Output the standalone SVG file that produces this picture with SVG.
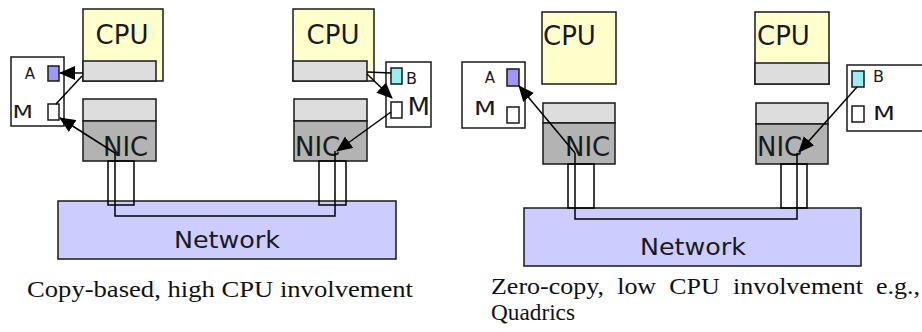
<svg xmlns="http://www.w3.org/2000/svg" width="922" height="332" viewBox="0 0 922 332">
<style>
.box{stroke:#1a1a1a;stroke-width:1.5}
.cpu{fill:#ffffcc}
.bar{fill:#dddddd}
.nicb{fill:#b3b3b3}
.mem{fill:#ffffff}
.bufA{fill:#9999ff}
.bufB{fill:#99eeee}
.net{fill:#ccccff}
.lbl{font-family:"DejaVu Sans",sans-serif;fill:#1a1a1a}
.cap{font-family:"Liberation Serif","Times New Roman",serif;fill:#111;font-size:23.5px}
.wire{fill:none;stroke:#000;stroke-width:1.5}
.con{fill:none;stroke:#000;stroke-width:1.5}
.arr{marker-end:url(#ah)}
</style>
<defs>
<marker id="ah" markerUnits="userSpaceOnUse" markerWidth="16" markerHeight="14" refX="15" refY="7" orient="auto">
<path d="M0,0 L16,7 L0,14 Z" fill="#000"/>
</marker>
</defs>
<rect width="922" height="332" fill="#fff"/>

<!-- Left diagram -->
<g id="network1">
<rect class="box net" x="58" y="201" width="338" height="58"/>
<text class="lbl" x="227" y="248" font-size="23" text-anchor="middle" textLength="106" lengthAdjust="spacingAndGlyphs">Network</text>
</g>
<g id="cpu1">
<rect class="box cpu" x="83" y="9" width="80" height="72"/>
<rect class="box bar" x="83" y="61" width="73" height="20"/>
<text class="lbl" x="122" y="44" font-size="26" text-anchor="middle">CPU</text>
</g>
<g id="mem1">
<rect class="box mem" x="11" y="57" width="53" height="69"/>
<text class="lbl" x="30" y="79" font-size="15" text-anchor="middle">A</text>
<rect class="box bufA" x="48" y="66" width="11" height="15"/>
<text class="lbl" x="12.5" y="118" font-size="18" textLength="20.5" lengthAdjust="spacingAndGlyphs">M</text>
<rect class="box mem" x="48" y="104" width="11" height="16"/>
</g>
<g id="nic1">
<rect class="box bar" x="83" y="99" width="73" height="22"/>
<rect class="box nicb" x="83" y="121" width="73" height="40"/>
<text class="lbl" x="103" y="156" font-size="26">NIC</text>
</g>
<g id="cpu2">
<rect class="box cpu" x="293" y="9" width="81" height="72"/>
<rect class="box bar" x="293" y="61" width="74" height="20"/>
<text class="lbl" x="333" y="44" font-size="26" text-anchor="middle">CPU</text>
</g>
<g id="mem2">
<rect class="box mem" x="386" y="62" width="45" height="65"/>
<rect class="box bufB" x="391" y="68" width="11" height="16"/>
<text class="lbl" x="406" y="84" font-size="16">B</text>
<rect class="box mem" x="391" y="102" width="11" height="16"/>
<text class="lbl" x="407.5" y="115" font-size="25" textLength="22.5" lengthAdjust="spacingAndGlyphs">M</text>
</g>
<g id="nic2">
<rect class="box bar" x="294" y="99" width="73" height="22"/>
<rect class="box nicb" x="294" y="121" width="73" height="40"/>
<text class="lbl" x="295" y="156" font-size="26">NIC</text>
</g>

<!-- Right diagram -->
<g id="network2">
<rect class="box net" x="524" y="208" width="337" height="58"/>
<text class="lbl" x="693" y="255" font-size="23" text-anchor="middle" textLength="106" lengthAdjust="spacingAndGlyphs">Network</text>
</g>
<g id="cpu3">
<rect class="box cpu" x="542" y="12" width="74" height="72"/>
<text class="lbl" x="543" y="45" font-size="26">CPU</text>
</g>
<g id="mem3">
<rect class="box mem" x="462" y="62" width="63" height="66"/>
<text class="lbl" x="490" y="82.5" font-size="15" text-anchor="middle">A</text>
<rect class="box bufA" x="507" y="69" width="12" height="17"/>
<text class="lbl" x="474" y="115" font-size="19" textLength="22" lengthAdjust="spacingAndGlyphs">M</text>
<rect class="box mem" x="507" y="107" width="12" height="16"/>
</g>
<g id="nic3">
<rect class="box bar" x="543" y="103" width="72" height="20"/>
<rect class="box nicb" x="543" y="123" width="72" height="41"/>
<text class="lbl" x="565" y="156" font-size="26">NIC</text>
</g>
<g id="cpu4">
<rect class="box cpu" x="755" y="12" width="74" height="72"/>
<rect class="box bar" x="755" y="63" width="74" height="21"/>
<text class="lbl" x="757" y="45" font-size="26">CPU</text>
</g>
<g id="mem4">
<rect class="box mem" x="847" y="65" width="80" height="66"/>
<rect class="box bufB" x="852" y="71" width="12" height="16"/>
<text class="lbl" x="873" y="82" font-size="16">B</text>
<rect class="box mem" x="852" y="106" width="12" height="16"/>
<text class="lbl" x="873" y="120" font-size="20" textLength="22" lengthAdjust="spacingAndGlyphs">M</text>
</g>
<g id="nic4">
<rect class="box bar" x="756" y="103" width="72" height="21"/>
<rect class="box nicb" x="756" y="124" width="72" height="40"/>
<text class="lbl" x="757" y="156" font-size="26">NIC</text>
</g>

<g id="connectors">
<rect class="wire" x="108" y="161" width="26" height="44"/>
<rect class="wire" x="319" y="161" width="27" height="44"/>
<polyline class="wire" points="115,153 115,216 335,216 335,151"/>
<rect class="wire" x="568" y="164" width="26" height="44"/>
<rect class="wire" x="781" y="164" width="26" height="44"/>
<polyline class="wire" points="575,153 575,219 797,219 797,153"/>
<line class="con arr" x1="83" y1="73" x2="60" y2="73"/>
<line class="con" x1="82" y1="76" x2="56" y2="104"/>
<line class="con arr" x1="115" y1="153" x2="60" y2="118"/>
<line class="con" x1="367" y1="72" x2="391" y2="73"/>
<line class="con arr" x1="367" y1="74" x2="392" y2="98"/>
<line class="con arr" x1="391" y1="112" x2="337" y2="151"/>
<line class="con arr" x1="575" y1="153" x2="519" y2="86"/>
<line class="con arr" x1="857" y1="87" x2="799" y2="152"/>
</g>

<g id="captions">
<text class="cap" x="27" y="297" font-size="25" textLength="386" lengthAdjust="spacingAndGlyphs">Copy-based, high CPU involvement</text>
<text class="cap" x="491" y="294" word-spacing="6" textLength="429" lengthAdjust="spacingAndGlyphs">Zero-copy, low CPU involvement e.g.,</text>
<text class="cap" x="491" y="320" textLength="84" lengthAdjust="spacingAndGlyphs">Quadrics</text>
</g>
</svg>
